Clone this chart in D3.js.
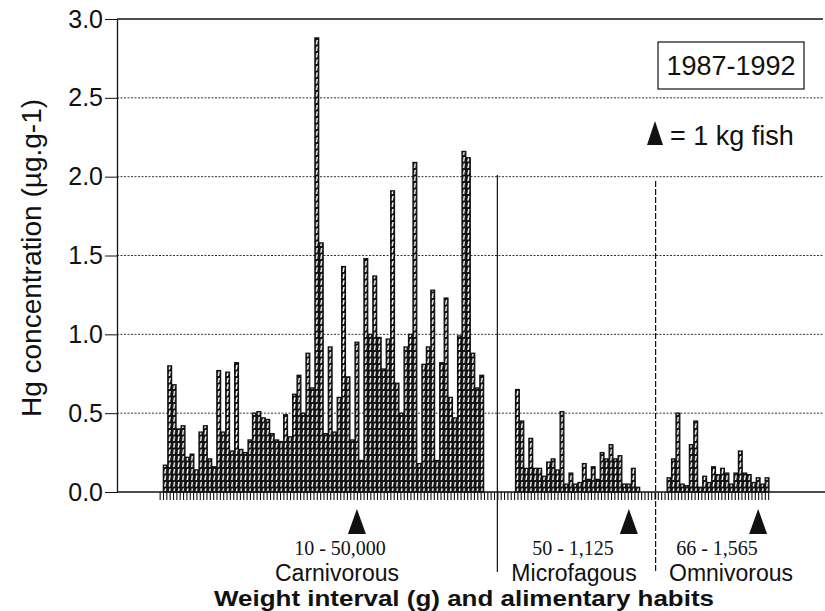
<!DOCTYPE html>
<html><head><meta charset="utf-8">
<script src="https://cdn.jsdelivr.net/npm/d3@7"></script>
<style>body{margin:0;background:#fff}svg{display:block}</style>
</head><body><svg id="c" width="825" height="611"></svg>
<script>
// ---- data (Hg concentration, µg.g-1) ----
const carnivorous = [0.17,0.80,0.68,0.40,0.42,0.22,0.24,0.14,0.38,0.42,0.21,0.16,0.77,0.38,0.76,0.26,0.82,0.27,0.25,0.33,
  0.50,0.51,0.47,0.46,0.37,0.33,0.32,0.49,0.35,0.62,0.74,0.50,0.88,0.66,2.88,1.58,0.37,0.92,0.38,0.60,
  1.43,0.73,0.33,0.95,0.20,1.48,1.00,1.37,0.98,0.78,0.97,1.91,0.69,0.50,0.92,1.00,2.09,0.18,0.81,0.92,
  1.28,0.20,0.82,1.23,0.60,0.47,0.99,2.16,2.12,0.88,0.66,0.74];
const microfagous = [0.65,0.45,0.15,0.34,0.15,0.15,0.10,0.19,0.21,0.14,0.51,0.05,0.12,0.05,0.06,0.18,0.08,0.16,0.08,0.25,
  0.21,0.30,0.21,0.23,0.05,0.05,0.15,0.03];
const omnivorous = [0.09,0.21,0.50,0.05,0.04,0.30,0.45,0.03,0.10,0.06,0.16,0.11,0.15,0.12,0.05,0.12,0.26,0.12,0.11,0.06,
  0.09,0.05,0.09];
const groupNames = ["Carnivorous","Microfagous","Omnivorous"];
const weightRanges = ["10 - 50,000","50 - 1,125","66 - 1,565"];
const oneKgIndex = [43, 25, 20];
const yTicks = [0,0.5,1.0,1.5,2.0,2.5,3.0];
const period = "1987-1992";
const legendText = "= 1 kg fish";
const yTitle = "Hg concentration (µg.g-1)";
const xTitle = "Weight interval (g) and alimentary habits";

// ---- layout ----
const svg = d3.select("#c");
const ink = "#111";
const sans = "Liberation Sans, Arial, Helvetica, sans-serif";
const slotW = 4.458, xStart = 163, gaps = [7, 6];
const groups = [carnivorous, microfagous, omnivorous];
const starts = [0, carnivorous.length + gaps[0], carnivorous.length + gaps[0] + microfagous.length + gaps[1]];
const nSlots = starts[2] + omnivorous.length;
const x = d3.scaleLinear().domain([0, nSlots]).range([xStart, xStart + nSlots * slotW]);
const y = d3.scaleLinear().domain([0, 3]).range([492, 19]);
const axisX = 117, rightX = 823;

// hatch pattern
const defs = svg.append("defs");
const pat = defs.append("pattern").attr("id","hatch").attr("patternUnits","userSpaceOnUse")
  .attr("x", xStart).attr("y", 0).attr("width", slotW).attr("height", 6.5);
pat.append("rect").attr("width", slotW).attr("height", 6.5).attr("fill", ink);
pat.append("path").attr("d","M1.0,5.6 L2.6,5.6 L3.5,1.0 L1.9,1.0 Z").attr("fill","#fff");

// gridlines
svg.append("g").selectAll("line").data(yTicks.filter(d => d > 0 && d < 3)).join("line")
  .attr("x1", axisX).attr("x2", rightX).attr("y1", d => y(d)).attr("y2", d => y(d))
  .attr("stroke", "#333").attr("stroke-width", 1).attr("stroke-dasharray", "2,1.5");
svg.append("line").attr("x1", axisX).attr("x2", rightX).attr("y1", y(3)).attr("y2", y(3))
  .attr("stroke", ink).attr("stroke-width", 1.3);

// bars
const bars = groups.flatMap((g, gi) => g.map((v, i) => ({slot: starts[gi] + i, v})));
svg.append("g").selectAll("rect").data(bars).join("rect")
  .attr("x", d => x(d.slot) + 0.35).attr("width", slotW - 0.7)
  .attr("y", d => y(d.v)).attr("height", d => y(0) - y(d.v))
  .attr("fill", "url(#hatch)").attr("stroke", ink).attr("stroke-width", 1.3);

// baseline + x ticks
const xAxis = d3.axisBottom(x).tickValues(d3.range(-0.75, nSlots + 0.01, 0.75)).tickSize(8).tickFormat("");
const gx = svg.append("g").attr("transform", `translate(0,${y(0)})`).call(xAxis);
gx.select(".domain").remove();
gx.selectAll(".tick line").attr("stroke", ink).attr("stroke-width", 1.1);
svg.append("line").attr("x1", axisX).attr("x2", 825).attr("y1", y(0)).attr("y2", y(0))
  .attr("stroke", ink).attr("stroke-width", 1.5);

// y axis
const yAxis = d3.axisLeft(y).tickValues(yTicks).tickFormat(d3.format(".1f")).tickSize(12).tickSizeOuter(0).tickPadding(2);
const gy = svg.append("g").attr("transform", `translate(${axisX},0)`).call(yAxis);
gy.select(".domain").attr("stroke", ink).attr("stroke-width", 1.3);
gy.selectAll(".tick line").attr("stroke", ink).attr("stroke-width", 1);
gy.selectAll(".tick text").attr("font-family", sans).attr("font-size", 25).attr("fill", ink);

// y title
svg.append("text").attr("transform", `translate(41,258) rotate(-90)`).attr("text-anchor", "middle")
  .attr("font-family", sans).attr("font-size", 28).attr("fill", ink).text(yTitle);

// separators
[[75, 175, null], [110.5, 181, "6,2"]].forEach(([s, top, dash]) => {
  svg.append("line").attr("x1", x(s)).attr("x2", x(s)).attr("y1", top).attr("y2", 572)
    .attr("stroke", ink).attr("stroke-width", 1.2).attr("stroke-dasharray", dash);
});

// 1 kg triangles
const tri = (cx, ty, w, h) => `M${cx},${ty} L${cx + w / 2},${ty + h} L${cx - w / 2},${ty + h} Z`;
svg.append("g").selectAll("path").data(oneKgIndex).join("path")
  .attr("d", (d, i) => tri(x(starts[i] + d + 0.5), 509, 18, 25)).attr("fill", ink);

// group labels
const rangeX = [340, 573, 717], nameX = [337, 574, 731];
svg.append("g").selectAll("text").data(weightRanges).join("text")
  .attr("x", (d, i) => rangeX[i]).attr("y", 555).attr("text-anchor", "middle")
  .attr("font-family", "Liberation Serif, Times New Roman, serif").attr("font-size", 20).attr("fill", ink).text(d => d);
svg.append("g").selectAll("text").data(groupNames).join("text")
  .attr("x", (d, i) => nameX[i]).attr("y", 581).attr("text-anchor", "middle")
  .attr("font-family", sans).attr("font-size", 23).attr("fill", ink).text(d => d);
svg.append("text").attr("x", 214).attr("y", 606)
  .attr("font-family", sans).attr("font-weight", "bold")
  .attr("font-size", 22).attr("textLength", 500).attr("lengthAdjust", "spacingAndGlyphs")
  .attr("fill", ink).text(xTitle);

// legend
svg.append("rect").attr("x", 658).attr("y", 42).attr("width", 146).attr("height", 47)
  .attr("fill", "#fff").attr("stroke", ink).attr("stroke-width", 1.2);
svg.append("text").attr("x", 731).attr("y", 75).attr("text-anchor", "middle")
  .attr("font-family", sans).attr("font-size", 27).attr("fill", ink).text(period);
svg.append("path").attr("d", tri(655, 121, 16, 24)).attr("fill", ink);
svg.append("text").attr("x", 670).attr("y", 145)
  .attr("font-family", sans).attr("font-size", 27).attr("fill", ink).text(legendText);
</script></body></html>
